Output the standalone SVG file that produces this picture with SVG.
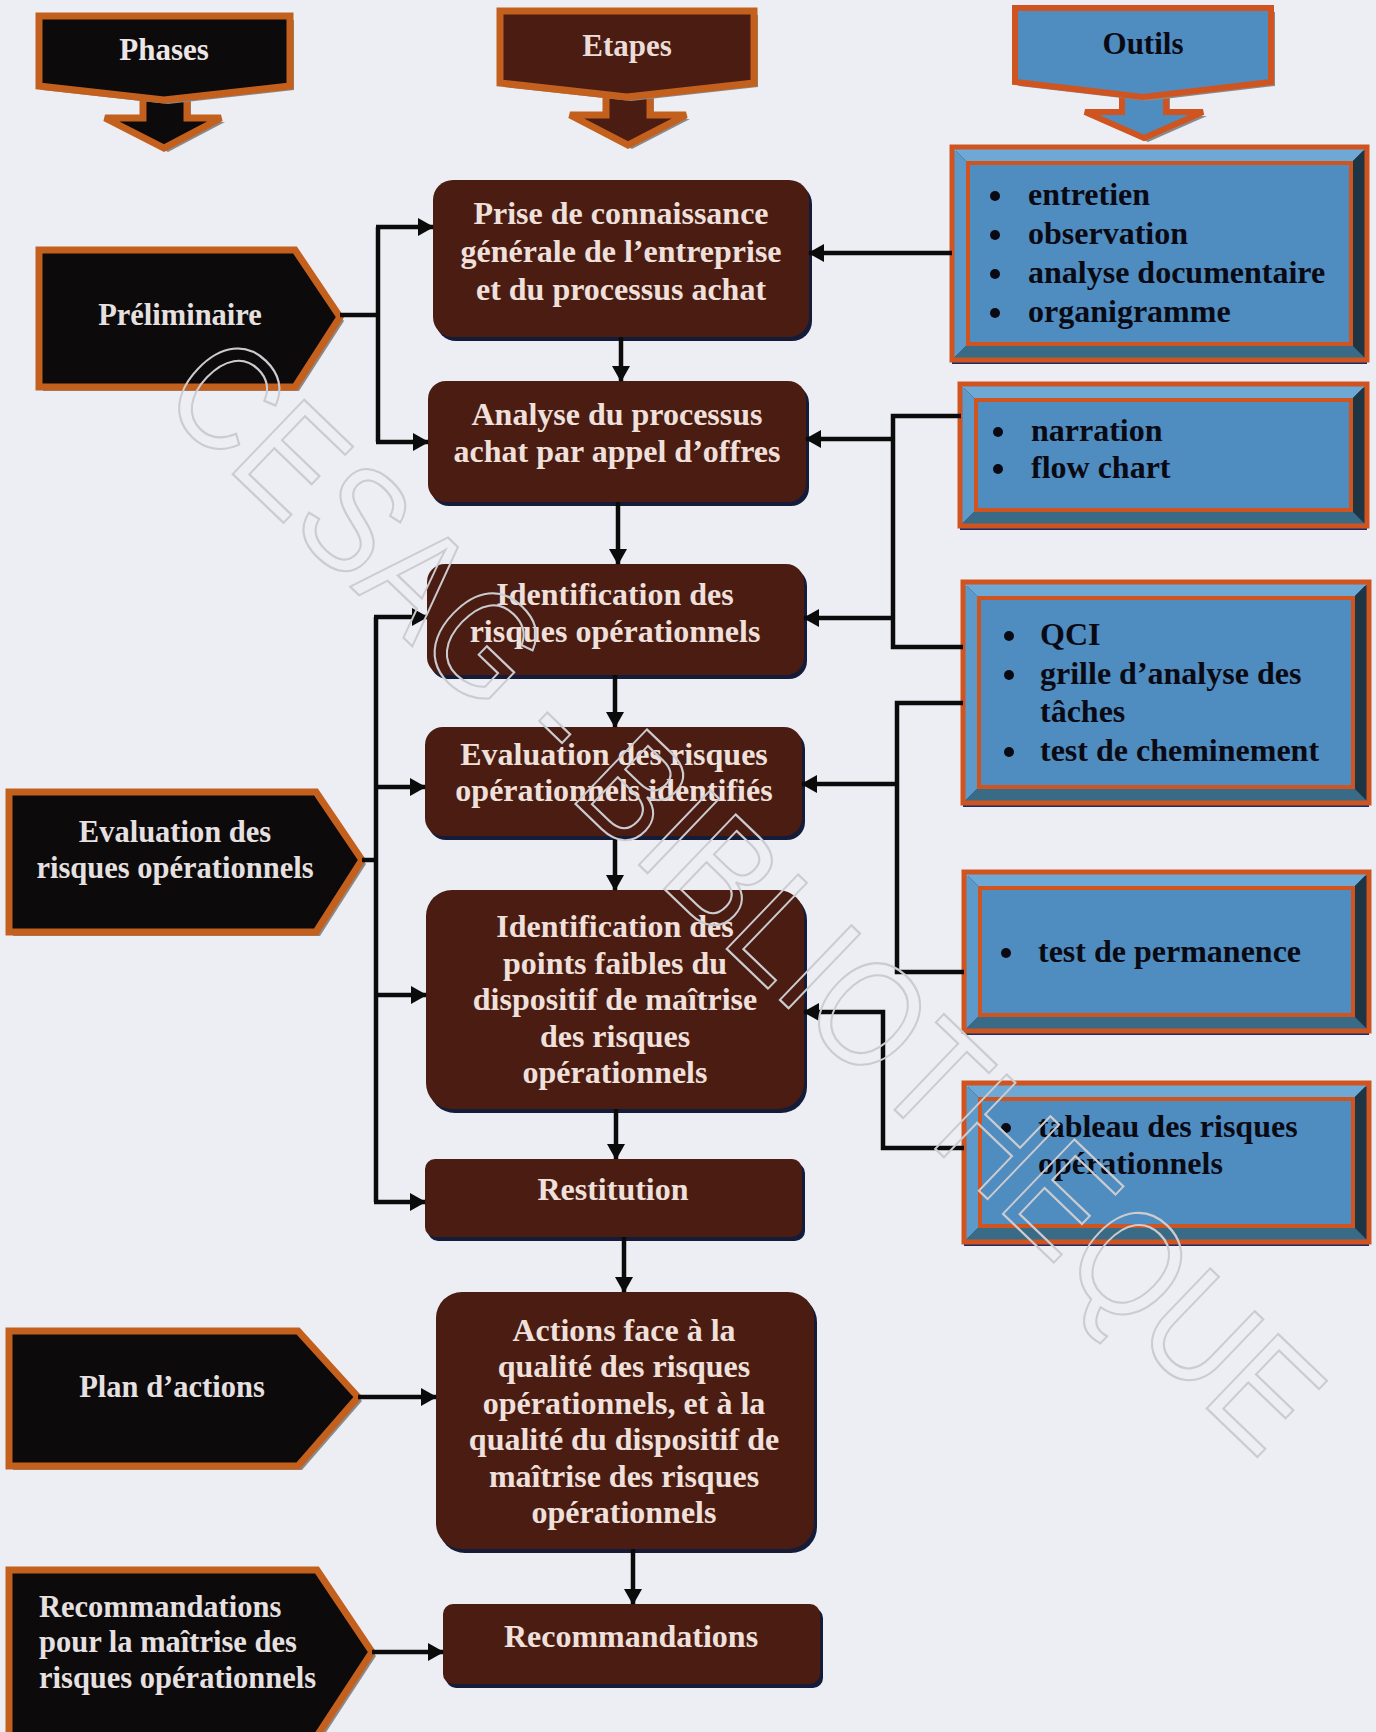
<svg xmlns="http://www.w3.org/2000/svg" width="1376" height="1732" viewBox="0 0 1376 1732">
  <defs>
    <marker id="ah" viewBox="0 0 16 18" refX="15" refY="9" markerWidth="16" markerHeight="18" orient="auto" markerUnits="userSpaceOnUse">
      <path d="M0,0 L16,9 L0,18 Z" fill="#0b0b0b"/>
    </marker>
    <style>
      .bg { fill: #eceef4; }
      .hdr-txt { font-family: "Liberation Serif", "Times New Roman", serif; font-weight: bold; font-size: 31px; text-anchor: middle; }
      .ph { fill: #0c0a0a; stroke: #c4601e; stroke-width: 7; stroke-linejoin: miter; }
      .ph-sh { fill: #8a8a8a; }
      .ph-txt { font-family: "Liberation Serif", "Times New Roman", serif; font-weight: bold; font-size: 30.5px; fill: #e6e0e0; }
      .step { fill: #4a1c12; }
      .step-sh { fill: #141c3a; }
      .step-txt { font-family: "Liberation Serif", "Times New Roman", serif; font-weight: bold; font-size: 32px; fill: #f0e0dc; text-anchor: middle; }
      .tool-sh { fill: #1c2a66; }
      .bv-top { fill: #6ea8d4; }
      .bv-left { fill: #5d99c9; }
      .bv-right { fill: #1e3544; }
      .bv-bot { fill: #3a6b86; }
      .face { fill: #4f8cbf; stroke: #d0541f; stroke-width: 4; }
      .frame { fill: none; stroke: #d0541f; stroke-width: 5; }
      .tool-txt { font-family: "Liberation Serif", "Times New Roman", serif; font-weight: bold; font-size: 32px; fill: #0a0a14; }
      .dot { fill: #0a0a14; }
      .wire { fill: none; stroke: #0b0b0b; stroke-width: 4.5; stroke-linejoin: miter; }
      .arr { fill: none; stroke: #0b0b0b; stroke-width: 4.5; marker-end: url(#ah); }
      .wm { font-family: "Liberation Sans", Arial, sans-serif; font-size: 150px; fill: none; stroke: #cbcbd0; stroke-width: 2.2; text-anchor: middle; }
    </style>
  </defs>

  <rect class="bg" x="0" y="0" width="1376" height="1732"/>

  <!-- column headers with their down arrows -->
  <g id="hdr-phases">
    <path class="ph-sh" d="M147,96 H191 V122 H225 L168,152 L109,122 H147 Z"/>
    <path class="ph" d="M143,92 H187 V118 H221 L164,148 L105,118 H143 Z"/>
    <path class="ph-sh" d="M43,20 H294 V90 L168,104 L43,90 Z"/>
    <path class="ph" d="M39,16 H290 V86 L164,100 L39,86 Z"/>
    <text class="hdr-txt" x="164" y="60" fill="#ece6e6">Phases</text>
  </g>
  <g id="hdr-etapes">
    <path class="ph-sh" d="M610,90 H654 V119 H690 L632,149 L574,119 H610 Z"/>
    <path d="M606,86 H650 V115 H686 L628,145 L570,115 H606 Z" fill="#4a1c12" stroke="#c4601e" stroke-width="7"/>
    <path class="ph-sh" d="M504,15 H758 V87 L631,101 L504,87 Z"/>
    <path d="M500,11 H754 V83 L627,97 L500,83 Z" fill="#4a1c12" stroke="#c4601e" stroke-width="7"/>
    <text class="hdr-txt" x="627" y="56" fill="#ecdcd8">Etapes</text>
  </g>
  <g id="hdr-outils">
    <path class="ph-sh" d="M1126,86 H1170 V116 H1207 L1148,142 L1089,116 H1126 Z"/>
    <path d="M1122,82 H1166 V112 H1203 L1144,138 L1085,112 H1122 Z" fill="#4f8cbf" stroke="#d0541f" stroke-width="6"/>
    <path class="ph-sh" d="M1019,12 H1275 V86 L1147,101 L1019,86 Z"/>
    <path d="M1015,8 H1271 V82 L1143,97 L1015,82 Z" fill="#4f8cbf" stroke="#d0541f" stroke-width="6"/>
    <text class="hdr-txt" x="1143" y="54" fill="#0a0a14">Outils</text>
  </g>

  <!-- phases (left column) -->
  <g id="phase-preliminaire">
    <path class="ph-sh" d="M43,254 H299 L344,321 L299,391 H43 Z"/>
    <path class="ph" d="M39,250 H295 L340,317 L295,387 H39 Z"/>
    <text class="ph-txt" x="180" y="325" font-size="31" text-anchor="middle">Préliminaire</text>
  </g>
  <g id="phase-evaluation">
    <path class="ph-sh" d="M13,796 H320 L366,864 L320,936 H13 Z"/>
    <path class="ph" d="M9,792 H316 L362,860 L316,932 H9 Z"/>
    <text class="ph-txt" x="175" y="842" text-anchor="middle">Evaluation des</text>
    <text class="ph-txt" x="175" y="878" text-anchor="middle">risques opérationnels</text>
  </g>
  <g id="phase-plan">
    <path class="ph-sh" d="M13,1335 H302 L362,1401 L302,1470 H13 Z"/>
    <path class="ph" d="M9,1331 H298 L358,1397 L298,1466 H9 Z"/>
    <text class="ph-txt" x="172" y="1397" text-anchor="middle">Plan d’actions</text>
  </g>
  <g id="phase-recommandations">
    <path class="ph-sh" d="M13,1574 H321 L376,1656 L321,1740 H13 Z"/>
    <path class="ph" d="M9,1570 H317 L372,1652 L317,1736 H9 Z"/>
    <text class="ph-txt" x="39" y="1617">Recommandations</text>
    <text class="ph-txt" x="39" y="1652">pour la maîtrise des</text>
    <text class="ph-txt" x="39" y="1688">risques opérationnels</text>
  </g>

  <!-- steps (middle column) -->
  <g id="step-prise">
    <rect class="step-sh" x="436" y="184" width="376" height="157" rx="20"/>
    <rect class="step" x="433" y="180" width="376" height="157" rx="20"/>
    <text class="step-txt" x="621" y="224">Prise de connaissance</text>
    <text class="step-txt" x="621" y="262">générale de l’entreprise</text>
    <text class="step-txt" x="621" y="300">et du processus achat</text>
  </g>
  <g id="step-analyse">
    <rect class="step-sh" x="431" y="385" width="378" height="121" rx="18"/>
    <rect class="step" x="428" y="381" width="378" height="121" rx="18"/>
    <text class="step-txt" x="617" y="425">Analyse du processus</text>
    <text class="step-txt" x="617" y="462">achat par appel d’offres</text>
  </g>
  <g id="step-identification">
    <rect class="step-sh" x="430" y="568" width="377" height="111" rx="18"/>
    <rect class="step" x="427" y="564" width="377" height="111" rx="18"/>
    <text class="step-txt" x="615" y="605">Identification des</text>
    <text class="step-txt" x="615" y="642">risques opérationnels</text>
  </g>
  <g id="step-evaluation">
    <rect class="step-sh" x="428" y="731" width="377" height="109" rx="18"/>
    <rect class="step" x="425" y="727" width="377" height="109" rx="18"/>
    <text class="step-txt" x="614" y="765">Evaluation des risques</text>
    <text class="step-txt" x="614" y="801">opérationnels identifiés</text>
  </g>
  <g id="step-points-faibles">
    <rect class="step-sh" x="429" y="894" width="378" height="219" rx="26"/>
    <rect class="step" x="426" y="890" width="378" height="219" rx="26"/>
    <text class="step-txt" x="615" y="937">Identification des</text>
    <text class="step-txt" x="615" y="974">points faibles du</text>
    <text class="step-txt" x="615" y="1010">dispositif de maîtrise</text>
    <text class="step-txt" x="615" y="1047">des risques</text>
    <text class="step-txt" x="615" y="1083">opérationnels</text>
  </g>
  <g id="step-restitution">
    <rect class="step-sh" x="428" y="1163" width="377" height="78" rx="10"/>
    <rect class="step" x="425" y="1159" width="377" height="78" rx="10"/>
    <text class="step-txt" x="613" y="1200">Restitution</text>
  </g>
  <g id="step-actions">
    <rect class="step-sh" x="439" y="1296" width="378" height="257" rx="26"/>
    <rect class="step" x="436" y="1292" width="378" height="257" rx="26"/>
    <text class="step-txt" x="624" y="1341">Actions face à la</text>
    <text class="step-txt" x="624" y="1377">qualité des risques</text>
    <text class="step-txt" x="624" y="1414">opérationnels, et à la</text>
    <text class="step-txt" x="624" y="1450">qualité du dispositif de</text>
    <text class="step-txt" x="624" y="1487">maîtrise des risques</text>
    <text class="step-txt" x="624" y="1523">opérationnels</text>
  </g>
  <g id="step-recommandations">
    <rect class="step-sh" x="446" y="1608" width="377" height="80" rx="10"/>
    <rect class="step" x="443" y="1604" width="377" height="80" rx="10"/>
    <text class="step-txt" x="631" y="1647">Recommandations</text>
  </g>

  <!-- tools (right column), bevelled panels -->
  <g id="tool-collecte">
    <rect class="tool-sh" x="952" y="151" width="415" height="213"/>
    <polygon class="bv-top" points="952,147 1367,147 1351,163 968,163"/>
    <polygon class="bv-left" points="952,147 968,163 968,344 952,360"/>
    <polygon class="bv-right" points="1367,147 1367,360 1351,344 1351,163"/>
    <polygon class="bv-bot" points="952,360 968,344 1351,344 1367,360"/>
    <rect class="face" x="968" y="163" width="383" height="181"/>
    <rect class="frame" x="952" y="147" width="415" height="213"/>
    <circle class="dot" cx="995" cy="196" r="5"/>
    <circle class="dot" cx="995" cy="235" r="5"/>
    <circle class="dot" cx="995" cy="274" r="5"/>
    <circle class="dot" cx="995" cy="313" r="5"/>
    <text class="tool-txt" x="1028" y="205">entretien</text>
    <text class="tool-txt" x="1028" y="244">observation</text>
    <text class="tool-txt" x="1028" y="283">analyse documentaire</text>
    <text class="tool-txt" x="1028" y="322">organigramme</text>
  </g>
  <g id="tool-description">
    <rect class="tool-sh" x="960" y="388" width="407" height="142"/>
    <polygon class="bv-top" points="960,384 1367,384 1351,400 976,400"/>
    <polygon class="bv-left" points="960,384 976,400 976,510 960,526"/>
    <polygon class="bv-right" points="1367,384 1367,526 1351,510 1351,400"/>
    <polygon class="bv-bot" points="960,526 976,510 1351,510 1367,526"/>
    <rect class="face" x="976" y="400" width="375" height="110"/>
    <rect class="frame" x="960" y="384" width="407" height="142"/>
    <circle class="dot" cx="998" cy="432" r="5"/>
    <circle class="dot" cx="998" cy="469" r="5"/>
    <text class="tool-txt" x="1031" y="441">narration</text>
    <text class="tool-txt" x="1031" y="478">flow chart</text>
  </g>
  <g id="tool-controle">
    <rect class="tool-sh" x="963" y="586" width="406" height="221"/>
    <polygon class="bv-top" points="963,582 1369,582 1353,598 979,598"/>
    <polygon class="bv-left" points="963,582 979,598 979,787 963,803"/>
    <polygon class="bv-right" points="1369,582 1369,803 1353,787 1353,598"/>
    <polygon class="bv-bot" points="963,803 979,787 1353,787 1369,803"/>
    <rect class="face" x="979" y="598" width="374" height="189"/>
    <rect class="frame" x="963" y="582" width="406" height="221"/>
    <circle class="dot" cx="1009" cy="636" r="5"/>
    <circle class="dot" cx="1009" cy="675" r="5"/>
    <circle class="dot" cx="1009" cy="752" r="5"/>
    <text class="tool-txt" x="1040" y="645">QCI</text>
    <text class="tool-txt" x="1040" y="684">grille d’analyse des</text>
    <text class="tool-txt" x="1040" y="722">tâches</text>
    <text class="tool-txt" x="1040" y="761">test de cheminement</text>
  </g>
  <g id="tool-permanence">
    <rect class="tool-sh" x="964" y="876" width="405" height="159"/>
    <polygon class="bv-top" points="964,872 1369,872 1353,888 980,888"/>
    <polygon class="bv-left" points="964,872 980,888 980,1015 964,1031"/>
    <polygon class="bv-right" points="1369,872 1369,1031 1353,1015 1353,888"/>
    <polygon class="bv-bot" points="964,1031 980,1015 1353,1015 1369,1031"/>
    <rect class="face" x="980" y="888" width="373" height="127"/>
    <rect class="frame" x="964" y="872" width="405" height="159"/>
    <circle class="dot" cx="1006" cy="953" r="5"/>
    <text class="tool-txt" x="1038" y="962">test de permanence</text>
  </g>
  <g id="tool-tableau">
    <rect class="tool-sh" x="964" y="1087" width="405" height="159"/>
    <polygon class="bv-top" points="964,1083 1369,1083 1353,1099 980,1099"/>
    <polygon class="bv-left" points="964,1083 980,1099 980,1226 964,1242"/>
    <polygon class="bv-right" points="1369,1083 1369,1242 1353,1226 1353,1099"/>
    <polygon class="bv-bot" points="964,1242 980,1226 1353,1226 1369,1242"/>
    <rect class="face" x="980" y="1099" width="373" height="127"/>
    <rect class="frame" x="964" y="1083" width="405" height="159"/>
    <circle class="dot" cx="1006" cy="1128" r="5"/>
    <text class="tool-txt" x="1038" y="1137">tableau des risques</text>
    <text class="tool-txt" x="1038" y="1174">opérationnels</text>
  </g>

  <!-- connectors -->
  <g id="connectors">
    <!-- step to step -->
    <path class="arr" d="M621,337 V381"/>
    <path class="arr" d="M618,502 V564"/>
    <path class="arr" d="M615,675 V727"/>
    <path class="arr" d="M615,836 V890"/>
    <path class="arr" d="M616,1109 V1159"/>
    <path class="arr" d="M624,1237 V1292"/>
    <path class="arr" d="M633,1549 V1604"/>
    <!-- phases to steps -->
    <path class="wire" d="M340,315 H378"/>
    <path class="wire" d="M378,227 V442"/>
    <path class="arr" d="M376,227 H433"/>
    <path class="arr" d="M376,442 H428"/>
    <path class="wire" d="M362,860 H376"/>
    <path class="wire" d="M376,617 V1202"/>
    <path class="arr" d="M374,617 H427"/>
    <path class="arr" d="M374,787 H425"/>
    <path class="arr" d="M374,995 H426"/>
    <path class="arr" d="M374,1202 H425"/>
    <path class="arr" d="M358,1397 H436"/>
    <path class="arr" d="M372,1652 H443"/>
    <!-- tools to steps -->
    <path class="arr" d="M952,253 H809"/>
    <path class="wire" d="M961,416 H893 V647 H963"/>
    <path class="arr" d="M895,439 H806"/>
    <path class="arr" d="M895,618 H804"/>
    <path class="wire" d="M963,703 H897 V972 H964"/>
    <path class="arr" d="M899,784 H802"/>
    <path class="arr" d="M964,1148 H883 V1012 H804"/>
  </g>

  <!-- library stamp across the sheet, outlined letters set in runs along one diagonal -->
  <g id="stamp">
    <text class="wm" x="386" y="601" transform="rotate(43.8 386 549)" textLength="534" lengthAdjust="spacingAndGlyphs">CESAG -</text>
    <text class="wm" x="755" y="956" transform="rotate(43.8 755 904)" textLength="419" lengthAdjust="spacingAndGlyphs">BIBLIO</text>
    <text class="wm" x="1000" y="1191" transform="rotate(43.8 1000 1139)" textLength="260" lengthAdjust="spacingAndGlyphs">THE</text>
    <text class="wm" x="1196" y="1378" transform="rotate(43.8 1196 1326)" textLength="281" lengthAdjust="spacingAndGlyphs">QUE</text>
  </g>
</svg>
